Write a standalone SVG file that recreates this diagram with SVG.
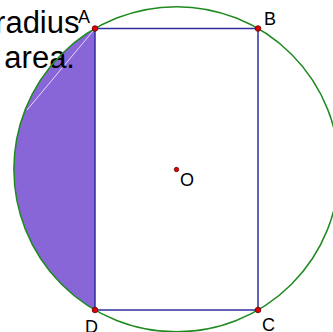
<svg xmlns="http://www.w3.org/2000/svg" width="333" height="332" viewBox="0 0 333 332">
<style>
.lbl{font-family:"Liberation Sans",Arial,sans-serif;font-size:18px;fill:#000}
.big{font-family:"Liberation Sans",Arial,sans-serif;font-size:31px;fill:#000;text-anchor:end}
.edge{stroke:#2e2e9e;stroke-width:1.5;fill:none}
.pt{fill:#e00000;stroke:#600000;stroke-width:0.8}
</style>
<rect width="333" height="332" fill="#fff"/>
<g id="segment">
<path d="M95,28.5 A162.6,162.6 0 0 0 95,310 Z" fill="#8866d8"/>
<line x1="93" y1="31" x2="27" y2="110" stroke="#f4f0ff" stroke-width="1" opacity="0.85"/>
</g>
<g id="text">
<text class="big" x="79.5" y="32.5">radius</text>
<text class="big" x="75" y="68">area.</text>
</g>
<g id="circle">
<circle cx="176.5" cy="169.25" r="162.6" fill="none" stroke="#1f8a1f" stroke-width="1.5"/>
</g>
<g id="connectors">
<line class="edge" x1="95" y1="28.5" x2="258" y2="28.5"/>
<line class="edge" x1="258" y1="28.5" x2="258" y2="310"/>
<line class="edge" x1="258" y1="310" x2="95" y2="310"/>
<line class="edge" x1="95" y1="310" x2="95" y2="28.5"/>
</g>
<g id="A"><circle class="pt" cx="95" cy="28.5" r="2.8"/><text class="lbl" x="78" y="23">A</text></g>
<g id="B"><circle class="pt" cx="258" cy="28.5" r="2.8"/><text class="lbl" x="264" y="25">B</text></g>
<g id="C"><circle class="pt" cx="258" cy="310" r="2.8"/><text class="lbl" x="262" y="331">C</text></g>
<g id="D"><circle class="pt" cx="95" cy="310" r="2.8"/><text class="lbl" x="85" y="333">D</text></g>
<g id="O"><circle class="pt" cx="176.5" cy="169.5" r="2.2"/><text class="lbl" x="180" y="186">O</text></g>
</svg>
